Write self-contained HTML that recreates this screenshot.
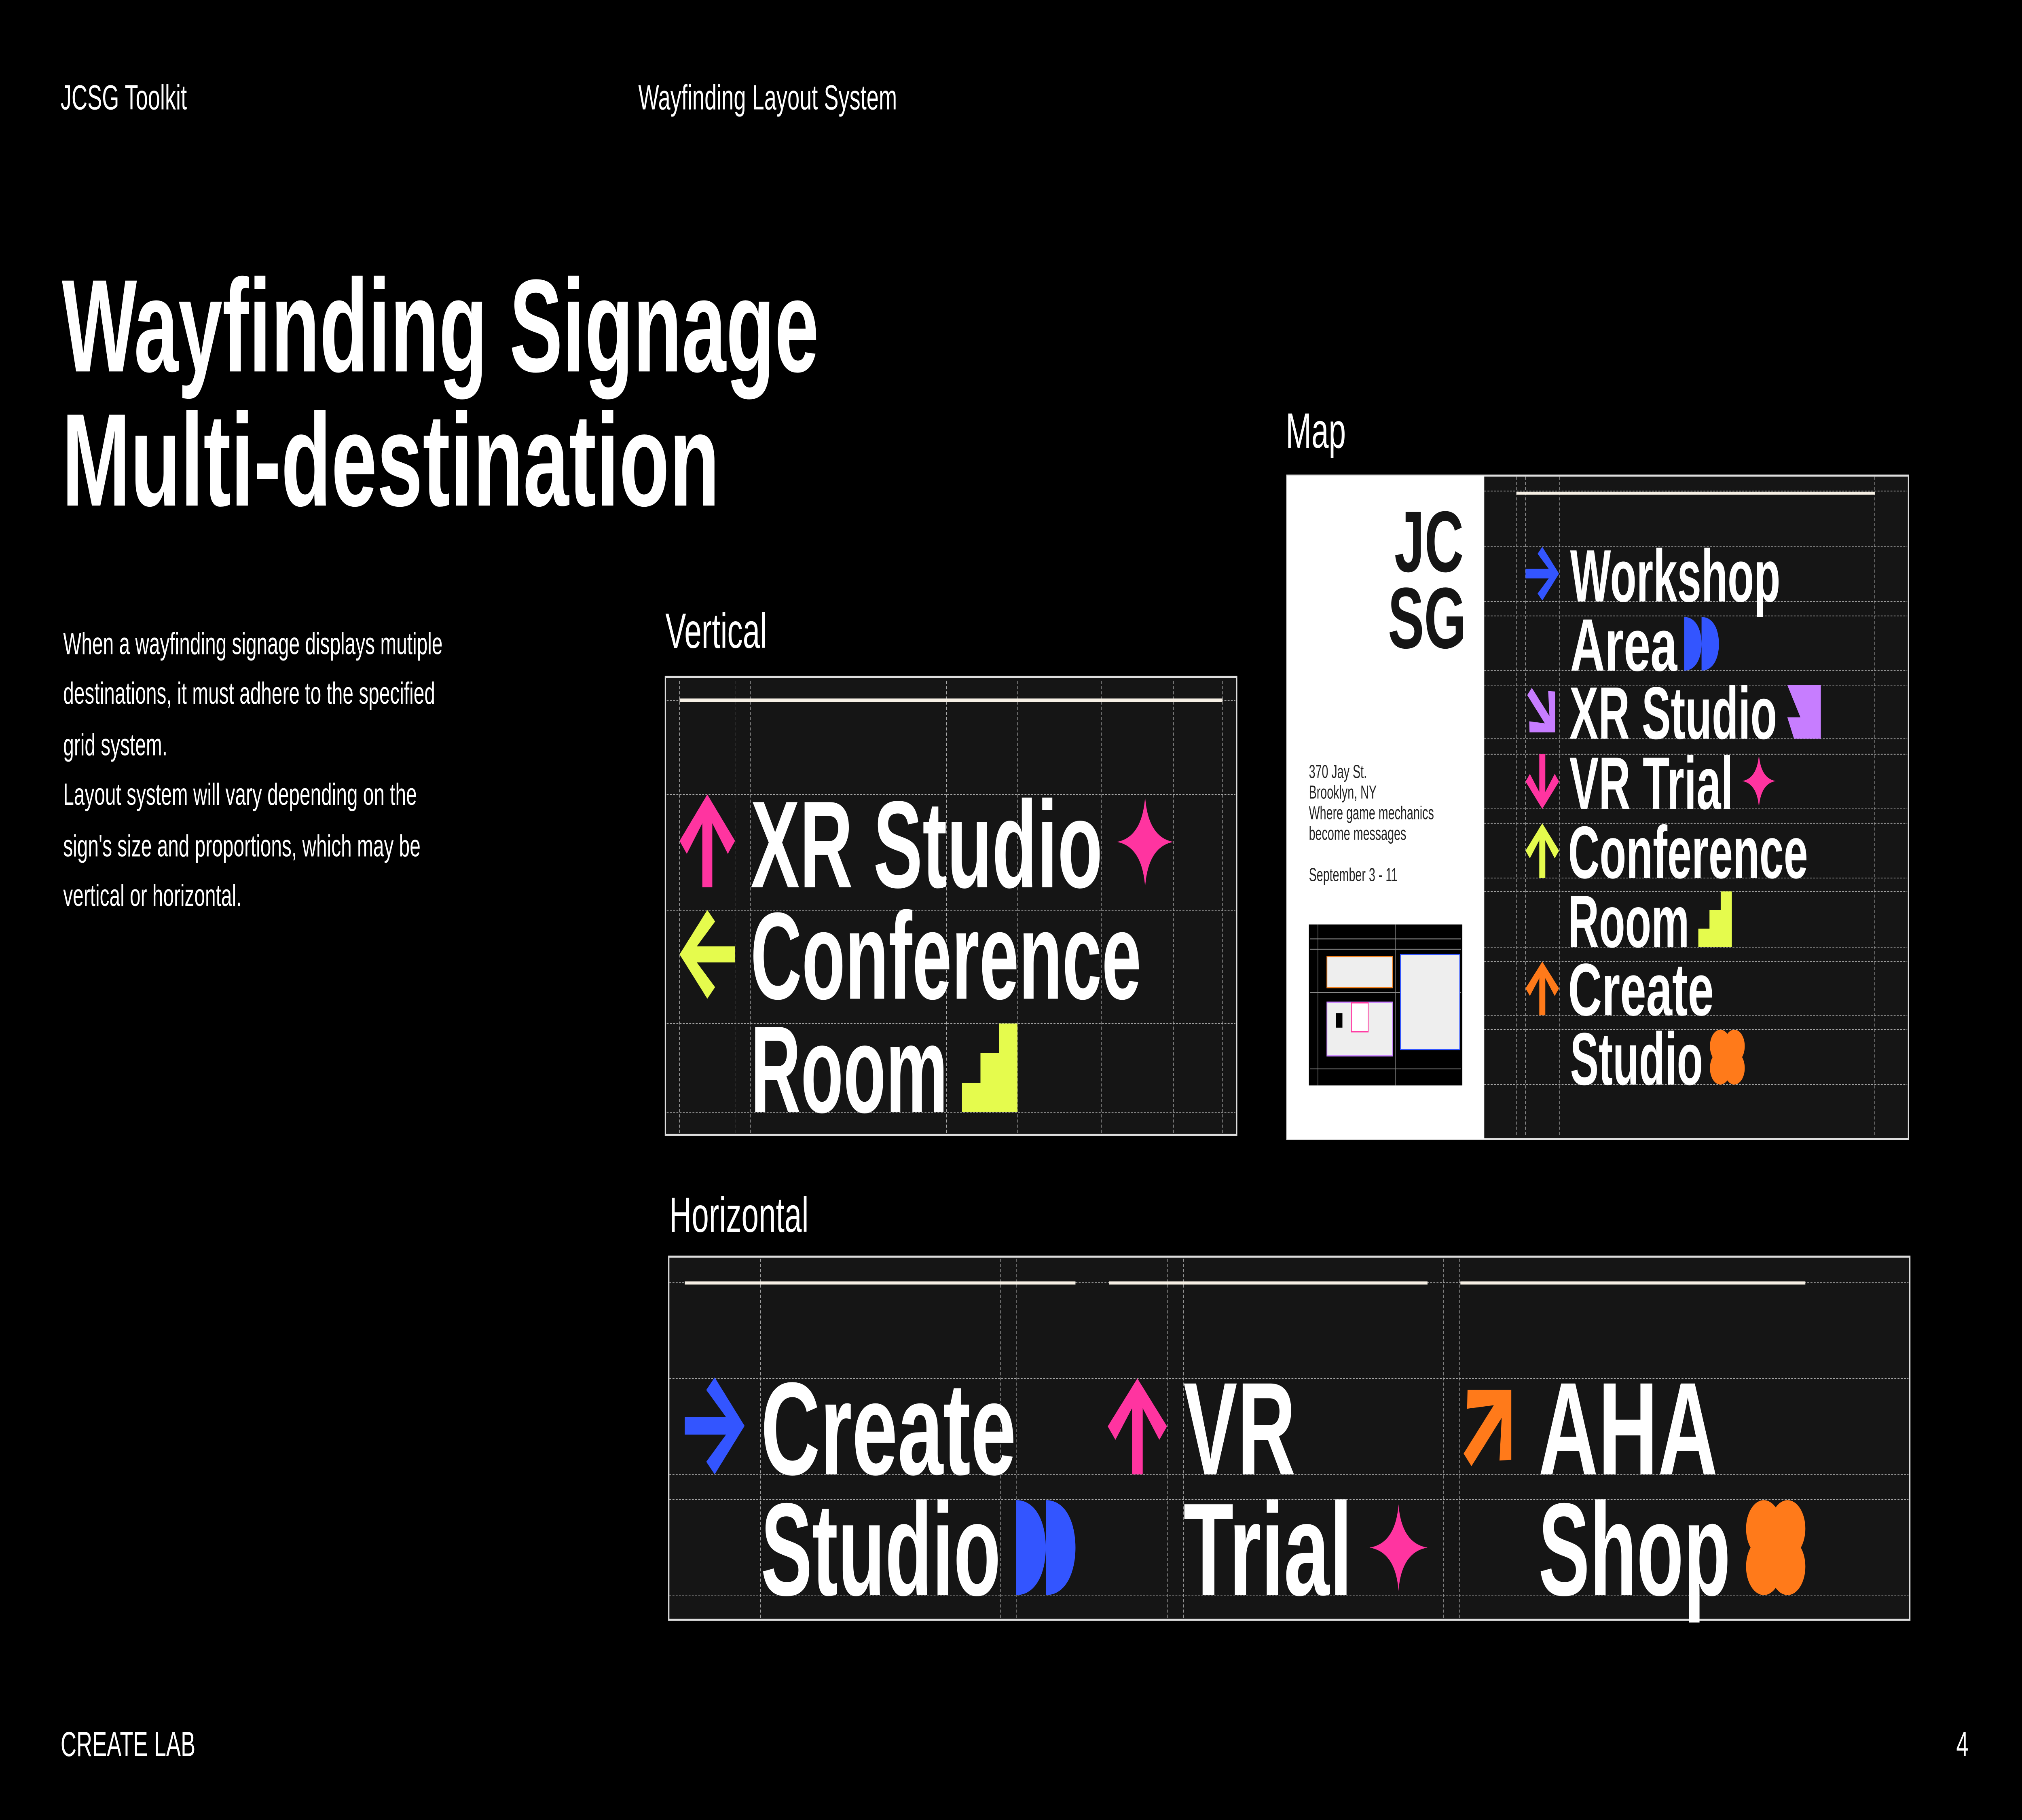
<!DOCTYPE html>
<html><head><meta charset="utf-8">
<style>
html,body{margin:0;padding:0;background:#000;width:100vw;height:100vh;overflow:hidden;}
svg{display:block;width:100vw;height:100vh;}
text{font-family:"Liberation Sans",sans-serif;}
</style></head>
<body>
<svg viewBox="0 0 1568 882" preserveAspectRatio="none" xmlns="http://www.w3.org/2000/svg">
<defs>
  <polygon id="arr" points="5,0 10,5 8.7,6.4 5.9,3.1 5.9,10 4.1,10 4.1,3.1 1.3,6.4 0,5"/>
  <path id="star" d="M5 0 Q5.5 4.5 10 5 Q5.5 5.5 5 10 Q4.5 5.5 0 5 Q4.5 4.5 5 0Z"/>
  <polygon id="stairs" points="0,10 0,6.67 3.33,6.67 3.33,3.33 6.67,3.33 6.67,0 10,0 10,10"/>
  <path id="dd" d="M0 0 C3.5 0 5 2.5 5 5 C5 7.5 3.5 10 0 10Z M5 0 C8.5 0 10 2.5 10 5 C10 7.5 8.5 10 5 10Z"/>
  <g id="clover"><circle cx="3" cy="3" r="3"/><circle cx="7" cy="3" r="3"/><circle cx="3" cy="7" r="3"/><circle cx="7" cy="7" r="3"/><rect x="2" y="2" width="6" height="6"/></g>
  <g id="xr"><polygon points="0,0 10,0 10,10 6.5,10"/><polygon points="0,6 6,6 8,10 2,10"/></g>
</defs>
<rect width="1568" height="882" fill="#000"/>

<text x="47" y="53" font-size="17" fill="#fff">JCSG Toolkit</text>
<text x="495" y="53" font-size="17" fill="#fff">Wayfinding Layout System</text>

<text x="48" y="180" font-size="64" font-weight="bold" fill="#fff" textLength="587" lengthAdjust="spacingAndGlyphs">Wayfinding Signage</text>
<text x="48" y="245" font-size="64" font-weight="bold" fill="#fff" textLength="510" lengthAdjust="spacingAndGlyphs">Multi-destination</text>

<g font-size="15" fill="#fff">
<text x="49" y="317">When a wayfinding signage displays mutiple</text>
<text x="49" y="341">destinations, it must adhere to the specified</text>
<text x="49" y="366">grid system.</text>
<text x="49" y="390">Layout system will vary depending on the</text>
<text x="49" y="415">sign's size and proportions, which may be</text>
<text x="49" y="439">vertical or horizontal.</text>
</g>

<text x="516" y="314" font-size="24" fill="#fff">Vertical</text>
<rect x="516" y="328" width="443" height="222" fill="#151515" stroke="#ddd" stroke-width="1"/>
<g stroke="#aaa" stroke-width="0.35" stroke-dasharray="1.5 1" fill="none">
  <path d="M527 330V549 M570 330V549 M582 330V549 M734 330V549 M789 330V549 M854 330V549 M910 330V549 M948 330V549"/>
  <path d="M517 339.5H958 M517 385H958 M517 441.4H958 M517 496H958 M517 539H958"/>
</g>
<rect x="527" y="338.5" width="421" height="1.6" fill="#f6efe4"/>
<use href="#arr" transform="translate(527,385) scale(4.3,4.5)" fill="#ff34a0"/>
<use href="#star" transform="translate(866,386) scale(4.4)" fill="#ff34a0"/>
<use href="#arr" transform="translate(527,484) rotate(-90) scale(4.3)" fill="#e5fb4d"/>
<use href="#stairs" transform="translate(746,496) scale(4.3,4.3)" fill="#e5fb4d"/>
<g font-size="60" font-weight="bold" fill="#fff">
<text x="582" y="430" textLength="273" lengthAdjust="spacingAndGlyphs">XR Studio</text>
<text x="582" y="484" textLength="303" lengthAdjust="spacingAndGlyphs">Conference</text>
<text x="582" y="539" textLength="153" lengthAdjust="spacingAndGlyphs">Room</text>
</g>

<text x="997" y="217" font-size="24" fill="#fff">Map</text>
<rect x="998" y="230.5" width="482" height="321.5" fill="#151515" stroke="#ddd" stroke-width="1"/>
<rect x="998" y="230.5" width="153" height="321.5" fill="#fff"/>
<text x="1135" y="277" font-size="42" font-weight="bold" fill="#151515" text-anchor="end">JC</text>
<text x="1137" y="314" font-size="42" font-weight="bold" fill="#151515" text-anchor="end">SG</text>
<g font-size="9" fill="#222">
<text x="1015" y="377">370 Jay St.</text>
<text x="1015" y="387">Brooklyn, NY</text>
<text x="1015" y="397">Where game mechanics</text>
<text x="1015" y="407">become messages</text>
<text x="1015" y="427">September 3 - 11</text>
</g>
<rect x="1015" y="448" width="119" height="78" fill="#000"/>
<g stroke="#888" stroke-width="0.4" fill="none">
  <path d="M1016 455H1133 M1016 460H1133 M1016 481H1133 M1016 518H1133 M1022 448V526 M1082 448V526"/>
</g>
<rect x="1029" y="463.6" width="51" height="15" fill="#eee" stroke="#f5821f" stroke-width="0.6"/>
<rect x="1086" y="462.6" width="46" height="46" fill="#eee" stroke="#3355ff" stroke-width="0.6"/>
<rect x="1029" y="485.7" width="51" height="26" fill="#eee" stroke="#c77dff" stroke-width="0.6"/>
<rect x="1048" y="486" width="13" height="14" fill="#fff" stroke="#ff34a0" stroke-width="0.6"/>
<rect x="1036" y="491" width="5" height="7" fill="#000"/>
<g stroke="#aaa" stroke-width="0.35" stroke-dasharray="1.5 1" fill="none">
  <path d="M1176 231V551 M1183 231V551 M1209.5 231V551 M1453.5 231V551"/>
  <path d="M1151 238H1479 M1151 265H1479 M1151 291.5H1479 M1151 298.5H1479 M1151 325H1479 M1151 332H1479 M1151 358H1479 M1151 365.5H1479 M1151 392H1479 M1151 399H1479 M1151 425.5H1479 M1151 432H1479 M1151 459H1479 M1151 466H1479 M1151 492H1479 M1151 499H1479 M1151 525.6H1479"/>
</g>
<rect x="1176" y="238.3" width="278" height="1.4" fill="#f6efe4"/>
<use href="#arr" transform="translate(1209,265) rotate(90) scale(2.6)" fill="#3355ff"/>
<use href="#dd" transform="translate(1306,299) scale(2.7,2.6)" fill="#3355ff"/>
<use href="#arr" transform="translate(1196,345) rotate(135) scale(2.8) translate(-5,-5)" fill="#c77dff"/>
<use href="#xr" transform="translate(1386,332) scale(2.6)" fill="#c77dff"/>
<use href="#arr" transform="translate(1209,392) rotate(180) scale(2.6,2.65)" fill="#ff34a0"/>
<use href="#star" transform="translate(1351,365.5) scale(2.6)" fill="#ff34a0"/>
<use href="#arr" transform="translate(1183,399) scale(2.6,2.65)" fill="#e5fb4d"/>
<use href="#stairs" transform="translate(1317,432) scale(2.6,2.7)" fill="#e5fb4d"/>
<use href="#arr" transform="translate(1183,466) scale(2.6,2.6)" fill="#ff7a1a"/>
<use href="#clover" transform="translate(1326,499) scale(2.7,2.66)" fill="#ff7a1a"/>
<g font-size="36" font-weight="bold" fill="#fff">
<text x="1217.6" y="291.5" textLength="163" lengthAdjust="spacingAndGlyphs">Workshop</text>
<text x="1217.6" y="325" textLength="83" lengthAdjust="spacingAndGlyphs">Area</text>
<text x="1217" y="358" textLength="161" lengthAdjust="spacingAndGlyphs">XR Studio</text>
<text x="1217" y="392" textLength="127" lengthAdjust="spacingAndGlyphs">VR Trial</text>
<text x="1216" y="425.5" textLength="186" lengthAdjust="spacingAndGlyphs">Conference</text>
<text x="1216" y="459" textLength="94" lengthAdjust="spacingAndGlyphs">Room</text>
<text x="1216" y="492" textLength="113" lengthAdjust="spacingAndGlyphs">Create</text>
<text x="1217.6" y="525.6" textLength="103" lengthAdjust="spacingAndGlyphs">Studio</text>
</g>

<text x="519" y="597" font-size="24" fill="#fff">Horizontal</text>
<rect x="518.6" y="609" width="962.4" height="176" fill="#151515" stroke="#ddd" stroke-width="1"/>
<g stroke="#aaa" stroke-width="0.35" stroke-dasharray="1.5 1" fill="none">
  <path d="M589.7 610V784 M776 610V784 M788.4 610V784 M905.4 610V784 M917.7 610V784 M1119.5 610V784 M1131.8 610V784"/>
  <path d="M519 621.6H1480 M519 668H1480 M519 714.5H1480 M519 726.7H1480 M519 773H1480"/>
</g>
<rect x="531" y="621" width="303" height="1.5" fill="#f6efe4"/>
<rect x="860" y="621" width="247" height="1.5" fill="#f6efe4"/>
<rect x="1132.5" y="621" width="267.5" height="1.5" fill="#f6efe4"/>
<use href="#arr" transform="translate(577.4,667.5) rotate(90) scale(4.7,4.64)" fill="#3355ff"/>
<use href="#dd" transform="translate(788,727) scale(4.6,4.6)" fill="#3355ff"/>
<use href="#arr" transform="translate(859,668) scale(4.6,4.65)" fill="#ff34a0"/>
<use href="#star" transform="translate(1062,729) scale(4.5,4.2)" fill="#ff34a0"/>
<use href="#arr" transform="translate(1155,690.5) rotate(45) scale(4.8) translate(-5,-5)" fill="#ff7a1a"/>
<use href="#clover" transform="translate(1354,727) scale(4.6,4.6)" fill="#ff7a1a"/>
<g font-size="64" font-weight="bold" fill="#fff">
<text x="590" y="714.5" textLength="198" lengthAdjust="spacingAndGlyphs">Create</text>
<text x="590" y="773" textLength="186" lengthAdjust="spacingAndGlyphs">Studio</text>
<text x="917.7" y="714.5" textLength="87" lengthAdjust="spacingAndGlyphs">VR</text>
<text x="917.7" y="773" textLength="131" lengthAdjust="spacingAndGlyphs">Trial</text>
<text x="1193" y="714.5" textLength="139" lengthAdjust="spacingAndGlyphs">AHA</text>
<text x="1193" y="773" textLength="149" lengthAdjust="spacingAndGlyphs">Shop</text>
</g>

<text x="47" y="851" font-size="17" fill="#fff">CREATE LAB</text>
<text x="1517" y="851" font-size="17" fill="#fff">4</text>
</svg>
</body></html>
